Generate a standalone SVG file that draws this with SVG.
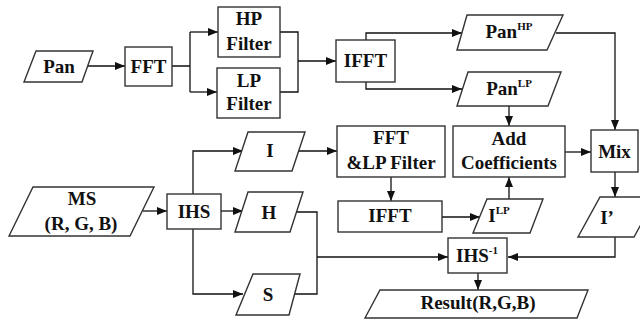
<svg xmlns="http://www.w3.org/2000/svg" width="640" height="320" viewBox="0 0 640 320">
<defs>
<marker id="ah" viewBox="0 0 10 8" refX="10" refY="4" markerWidth="10" markerHeight="8" markerUnits="userSpaceOnUse" orient="auto">
<path d="M0,0 L10,4 L0,8 Z" fill="#111"/>
</marker>
</defs>
<rect width="640" height="320" fill="#fff"/>
<g id="connectors" fill="none" stroke="#111" stroke-width="1.3">
<path marker-end="url(#ah)" d="M85,66 H125"/>
<path d="M172,66 H190 M190,32 V92"/>
<path marker-end="url(#ah)" d="M190,32 H218"/>
<path marker-end="url(#ah)" d="M190,92 H217"/>
<path d="M280,32 H298 V92 H280"/>
<path marker-end="url(#ah)" d="M298,61 H336"/>
<path marker-end="url(#ah)" d="M366,40 V33 H462"/>
<path marker-end="url(#ah)" d="M366,82 V89 H462"/>
<path marker-end="url(#ah)" d="M556,33 H615 V130"/>
<path marker-end="url(#ah)" d="M509,106 V126"/>
<path marker-end="url(#ah)" d="M565,152 H591"/>
<path marker-end="url(#ah)" d="M615,172 V197"/>
<path marker-end="url(#ah)" d="M143,211 H167"/>
<path marker-end="url(#ah)" d="M193,194 V151 H243"/>
<path marker-end="url(#ah)" d="M221,211 H243"/>
<path marker-end="url(#ah)" d="M193,229 V294 H243"/>
<path marker-end="url(#ah)" d="M296,151 H337"/>
<path marker-end="url(#ah)" d="M391,177 V201"/>
<path marker-end="url(#ah)" d="M442,217 H480"/>
<path marker-end="url(#ah)" d="M509,199 V177"/>
<path d="M296,212 H317 V294 H290"/>
<path marker-end="url(#ah)" d="M317,257 H448"/>
<path marker-end="url(#ah)" d="M615,237 V257 H508"/>
<path marker-end="url(#ah)" d="M478,273 V290"/>
</g>
<g fill="#fff" stroke="#333" stroke-width="1.4">
<g id="pan"><polygon points="36,51 93,51 82,82 24,82"/><text x="59" y="73" style="font-family:'Liberation Serif',serif !important;font-weight:bold;font-size:19px;text-anchor:middle;fill:#111;stroke:none">Pan</text></g>
<g id="fft"><rect x="125" y="47" width="47" height="39"/><text x="148.5" y="73" style="font-family:'Liberation Serif',serif !important;font-weight:bold;font-size:19px;text-anchor:middle;fill:#111;stroke:none">FFT</text></g>
<g id="hp"><rect x="218" y="7" width="62" height="50"/><text x="249" y="25" style="font-family:'Liberation Serif',serif !important;font-weight:bold;font-size:19px;text-anchor:middle;fill:#111;stroke:none">HP</text><text x="249" y="50" style="font-family:'Liberation Serif',serif !important;font-weight:bold;font-size:19px;text-anchor:middle;fill:#111;stroke:none">Filter</text></g>
<g id="lp"><rect x="217" y="68" width="63" height="50"/><text x="249" y="87" style="font-family:'Liberation Serif',serif !important;font-weight:bold;font-size:19px;text-anchor:middle;fill:#111;stroke:none">LP</text><text x="249" y="110" style="font-family:'Liberation Serif',serif !important;font-weight:bold;font-size:19px;text-anchor:middle;fill:#111;stroke:none">Filter</text></g>
<g id="ifft1"><rect x="336" y="40" width="59" height="42"/><text x="365.5" y="67" style="font-family:'Liberation Serif',serif !important;font-weight:bold;font-size:19px;text-anchor:middle;fill:#111;stroke:none">IFFT</text></g>
<g id="panhp"><polygon points="467,15 563,15 547,50 457,50"/><text x="509" y="38" style="font-family:'Liberation Serif',serif !important;font-weight:bold;font-size:19px;text-anchor:middle;fill:#111;stroke:none">Pan<tspan style="font-size:11px" dy="-8">HP</tspan></text></g>
<g id="panlp"><polygon points="468,72 561,72 548,106 457,106"/><text x="509" y="95" style="font-family:'Liberation Serif',serif !important;font-weight:bold;font-size:19px;text-anchor:middle;fill:#111;stroke:none">Pan<tspan style="font-size:11px" dy="-8">LP</tspan></text></g>
<g id="add"><rect x="453" y="126" width="112" height="51"/><text x="509" y="145" style="font-family:'Liberation Serif',serif !important;font-weight:bold;font-size:19px;text-anchor:middle;fill:#111;stroke:none">Add</text><text x="509" y="169" style="font-family:'Liberation Serif',serif !important;font-weight:bold;font-size:19px;text-anchor:middle;fill:#111;stroke:none">Coefficients</text></g>
<g id="mix"><rect x="591" y="130" width="47" height="42"/><text x="614.5" y="158" style="font-family:'Liberation Serif',serif !important;font-weight:bold;font-size:19px;text-anchor:middle;fill:#111;stroke:none">Mix</text></g>
<g id="ms"><polygon points="33,187 154,187 130,236 9,236"/><text x="82" y="205" style="font-family:'Liberation Serif',serif !important;font-weight:bold;font-size:19px;text-anchor:middle;fill:#111;stroke:none">MS</text><text x="81" y="230" style="font-family:'Liberation Serif',serif !important;font-weight:bold;font-size:19px;text-anchor:middle;fill:#111;stroke:none">(R, G, B)</text></g>
<g id="ihs"><rect x="167" y="194" width="54" height="35"/><text x="194" y="218" style="font-family:'Liberation Serif',serif !important;font-weight:bold;font-size:19px;text-anchor:middle;fill:#111;stroke:none">IHS</text></g>
<g id="i"><polygon points="248,132 305,132 292,171 235,171"/><text x="270" y="157" style="font-family:'Liberation Serif',serif !important;font-weight:bold;font-size:19px;text-anchor:middle;fill:#111;stroke:none">I</text></g>
<g id="h"><polygon points="248,192 303,192 290,232 235,232"/><text x="269" y="219" style="font-family:'Liberation Serif',serif !important;font-weight:bold;font-size:19px;text-anchor:middle;fill:#111;stroke:none">H</text></g>
<g id="s"><polygon points="253,274 300,274 289,315 236,315"/><text x="268" y="301" style="font-family:'Liberation Serif',serif !important;font-weight:bold;font-size:19px;text-anchor:middle;fill:#111;stroke:none">S</text></g>
<g id="fftlp"><rect x="337" y="126" width="108" height="51"/><text x="391" y="144" style="font-family:'Liberation Serif',serif !important;font-weight:bold;font-size:19px;text-anchor:middle;fill:#111;stroke:none">FFT</text><text x="391" y="169" style="font-family:'Liberation Serif',serif !important;font-weight:bold;font-size:19px;text-anchor:middle;fill:#111;stroke:none">&amp;LP Filter</text></g>
<g id="ifft2"><rect x="338" y="201" width="104" height="31"/><text x="390" y="222" style="font-family:'Liberation Serif',serif !important;font-weight:bold;font-size:19px;text-anchor:middle;fill:#111;stroke:none">IFFT</text></g>
<g id="ilp"><polygon points="487,199 543,199 530,233 473,233"/><text x="499" y="222" style="font-family:'Liberation Serif',serif !important;font-weight:bold;font-size:19px;text-anchor:middle;fill:#111;stroke:none">I<tspan style="font-size:11px" dy="-8">LP</tspan></text></g>
<g id="iprime"><polygon points="600,197 656,197 634,237 578,237"/><text x="607" y="224" style="font-family:'Liberation Serif',serif !important;font-weight:bold;font-size:19px;text-anchor:middle;fill:#111;stroke:none">I’</text></g>
<g id="ihsinv"><rect x="448" y="238" width="59" height="35"/><text x="477" y="262" style="font-family:'Liberation Serif',serif !important;font-weight:bold;font-size:19px;text-anchor:middle;fill:#111;stroke:none">IHS<tspan style="font-size:11px" dy="-8">-1</tspan></text></g>
<g id="result"><polygon points="380,290 588,290 577,318 365,318"/><text x="478" y="309" style="font-family:'Liberation Serif',serif !important;font-weight:bold;font-size:19px;text-anchor:middle;fill:#111;stroke:none">Result(R,G,B)</text></g>
</g>
</svg>
